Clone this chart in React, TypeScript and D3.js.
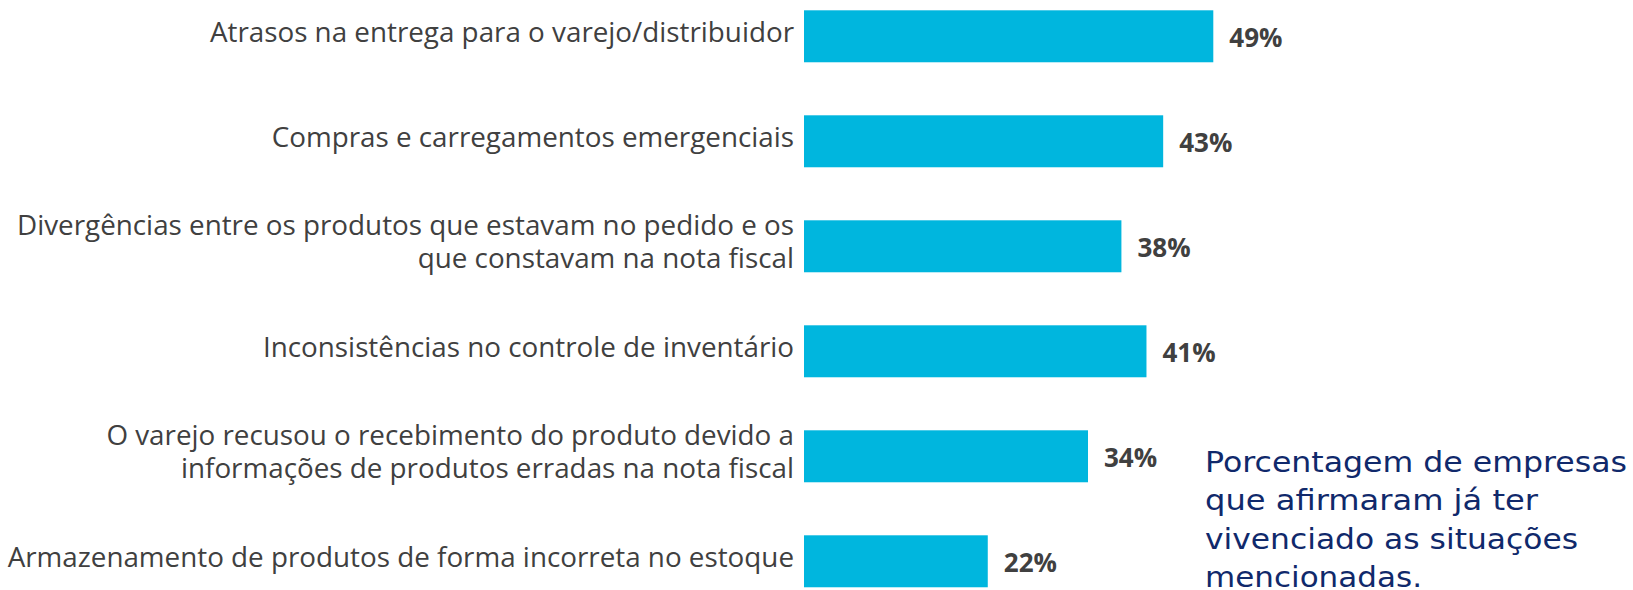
import React from "react";
import * as d3 from "d3";

const categories: string[][] = [
  ["Atrasos na entrega para o varejo/distribuidor"],
  ["Compras e carregamentos emergenciais"],
  ["Divergências entre os produtos que estavam no pedido e os", "que constavam na nota fiscal"],
  ["Inconsistências no controle de inventário"],
  ["O varejo recusou o recebimento do produto devido a", "informações de produtos erradas na nota fiscal"],
  ["Armazenamento de produtos de forma incorreta no estoque"],
];
const values: number[] = [49, 43, 38, 41, 34, 22];
const noteLines: string[] = [
  "Porcentagem de empresas",
  "que afirmaram já ter",
  "vivenciado as situações",
  "mencionadas.",
];

const W = 1633;
const H = 590;

export default function App() {
  const keys = categories.map((c) => c.join(" "));
  const y = d3
    .scaleBand<string>()
    .domain(keys)
    .range([10.3, 10.3 + 105 * 5.495])
    .paddingInner(0.505)
    .paddingOuter(0);
  const x = d3.scaleLinear().domain([0, 100]).range([804, 804 + 835.3]);
  const bw = y.bandwidth();
  const labelFont = "'Open Sans', sans-serif";
  const noteWidths = [422, 333, 373, 217];

  return (
    <svg
      width={W}
      height={H}
      style={{ position: "absolute", left: 0, top: 0, background: "#fff" }}
    >
      {categories.map((lines, i) => {
        const k = keys[i];
        const y0 = y(k)!;
        const cy = y0 + bw / 2;
        const v = values[i];
        return (
          <g key={k}>
            <rect
              x={x(0)}
              y={y0}
              width={x(v) - x(0)}
              height={bw}
              fill="#00B6DE"
            />
            {lines.map((ln, j) => (
              <text
                key={j}
                x={794}
                y={cy + 5.5 + (j - (lines.length - 1) / 2) * 33}
                textAnchor="end"
                fontFamily={labelFont}
                fontSize={27.8}
                fill="#404040"
              >
                {ln}
              </text>
            ))}
            <text
              x={x(v) + 16}
              y={cy + 10.5}
              fontFamily={labelFont}
              fontWeight="bold"
              fontSize={26}
              fill="#404040"
            >
              {`${v}%`}
            </text>
          </g>
        );
      })}
      {noteLines.map((ln, i) => (
        <text
          key={i}
          x={1205}
          y={472 + i * 38.4}
          fontFamily="'DejaVu Sans', Verdana, sans-serif"
          fontSize={28}
          fill="#10296B"
          textLength={noteWidths[i]}
          lengthAdjust="spacingAndGlyphs"
        >
          {ln}
        </text>
      ))}
    </svg>
  );
}
